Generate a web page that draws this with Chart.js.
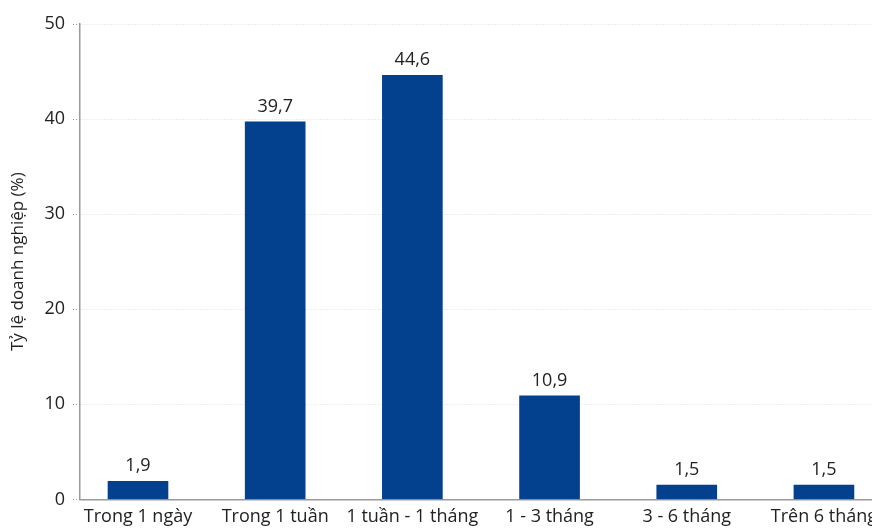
<!DOCTYPE html>
<html>
  <head>
    <title>Tỷ lệ doanh nghiệp</title>
    <meta charset="UTF-8">
    <style>
      html, body {
        margin: 0;
        padding: 0;
        background: #fff;
      }
      .frame {
        width: 872px;
        height: 529px;
        overflow: hidden;
        position: relative;
      }
      .canvas {
        width: 940px;
        height: 529px;
        position: absolute;
        left: 0;
        top: 0;
      }
    </style>
  </head>
  <body>
    <div class="frame">
      <div class="canvas">
        <canvas id="canvas"></canvas>
      </div>
    </div>
    <script src="https://cdn.jsdelivr.net/npm/chart.js@4/dist/chart.umd.min.js"></script>
    <script>
    // categories and values
    var categories = ['Trong 1 ngày', 'Trong 1 tuần', '1 tuần - 1 tháng', '1 - 3 tháng', '3 - 6 tháng', 'Trên 6 tháng'];
    var shares = [1.9, 39.7, 44.6, 10.9, 1.5, 1.5];
    var yTicks = [0, 10, 20, 30, 40, 50];
    var yTitle = 'Tỷ lệ doanh nghiệp (%)';

    var font = "'Open Sans', 'Noto Sans', sans-serif";
    var textColor = '#222';

    // write the value above each bar, with a decimal comma
    var valueLabels = {
        id: 'valueLabels',
        afterDatasetsDraw: function(chart) {
            var ctx = chart.ctx;
            var meta = chart.getDatasetMeta(0);
            ctx.save();
            ctx.font = '18px ' + font;
            ctx.fillStyle = textColor;
            ctx.textAlign = 'center';
            ctx.textBaseline = 'alphabetic';
            meta.data.forEach(function(bar, i) {
                ctx.fillText(String(shares[i]).replace('.', ','), bar.x, bar.y - 10);
            });
            ctx.restore();
        }
    };

    var ctx = document.getElementById('canvas').getContext('2d');
    var chart = new Chart(ctx, {
        type: 'bar',
        data: {
            datasets: [{
                data: shares.map(function(v, i) { return { x: i, y: v }; }),
                backgroundColor: '#03418e',
                barThickness: 60
            }]
        },
        plugins: [valueLabels],
        options: {
            responsive: true,
            maintainAspectRatio: false,
            animation: false,
            layout: { padding: { top: 24, right: 0, bottom: -6, left: 0 } },
            plugins: {
                legend: { display: false },
                tooltip: { enabled: false }
            },
            scales: {
                x: {
                    type: 'linear',
                    offset: false,
                    min: -0.4227,
                    max: 5.846,
                    afterBuildTicks: function(scale) {
                        scale.ticks = categories.map(function(c, i) { return { value: i }; });
                    },
                    grid: { display: false, drawTicks: false, offset: false },
                    border: { display: true, color: '#9a9a9a', width: 1.5 },
                    ticks: {
                        autoSkip: false,
                        maxRotation: 0,
                        padding: 7,
                        color: textColor,
                        font: { family: font, size: 18 },
                        callback: function(value) { return categories[value]; }
                    }
                },
                y: {
                    min: 0,
                    max: 50,
                    afterBuildTicks: function(scale) {
                        scale.ticks = yTicks.map(function(v) { return { value: v }; });
                    },
                    afterFit: function(scale) {
                        scale.width = 80;
                    },
                    grid: {
                        color: '#dcdcdc',
                        lineWidth: 1,
                        tickColor: '#9a9a9a',
                        tickLength: 7,
                        tickBorderDash: [1, 2]
                    },
                    border: { display: true, color: '#9a9a9a', width: 1.5, dash: [1, 2] },
                    ticks: {
                        padding: 8,
                        color: textColor,
                        font: { family: font, size: 18 }
                    },
                    title: {
                        display: true,
                        text: yTitle,
                        color: textColor,
                        font: { family: font, size: 17 },
                        padding: { top: 8, bottom: 0 }
                    }
                }
            }
        }
    });
    </script>
  </body>
</html>
